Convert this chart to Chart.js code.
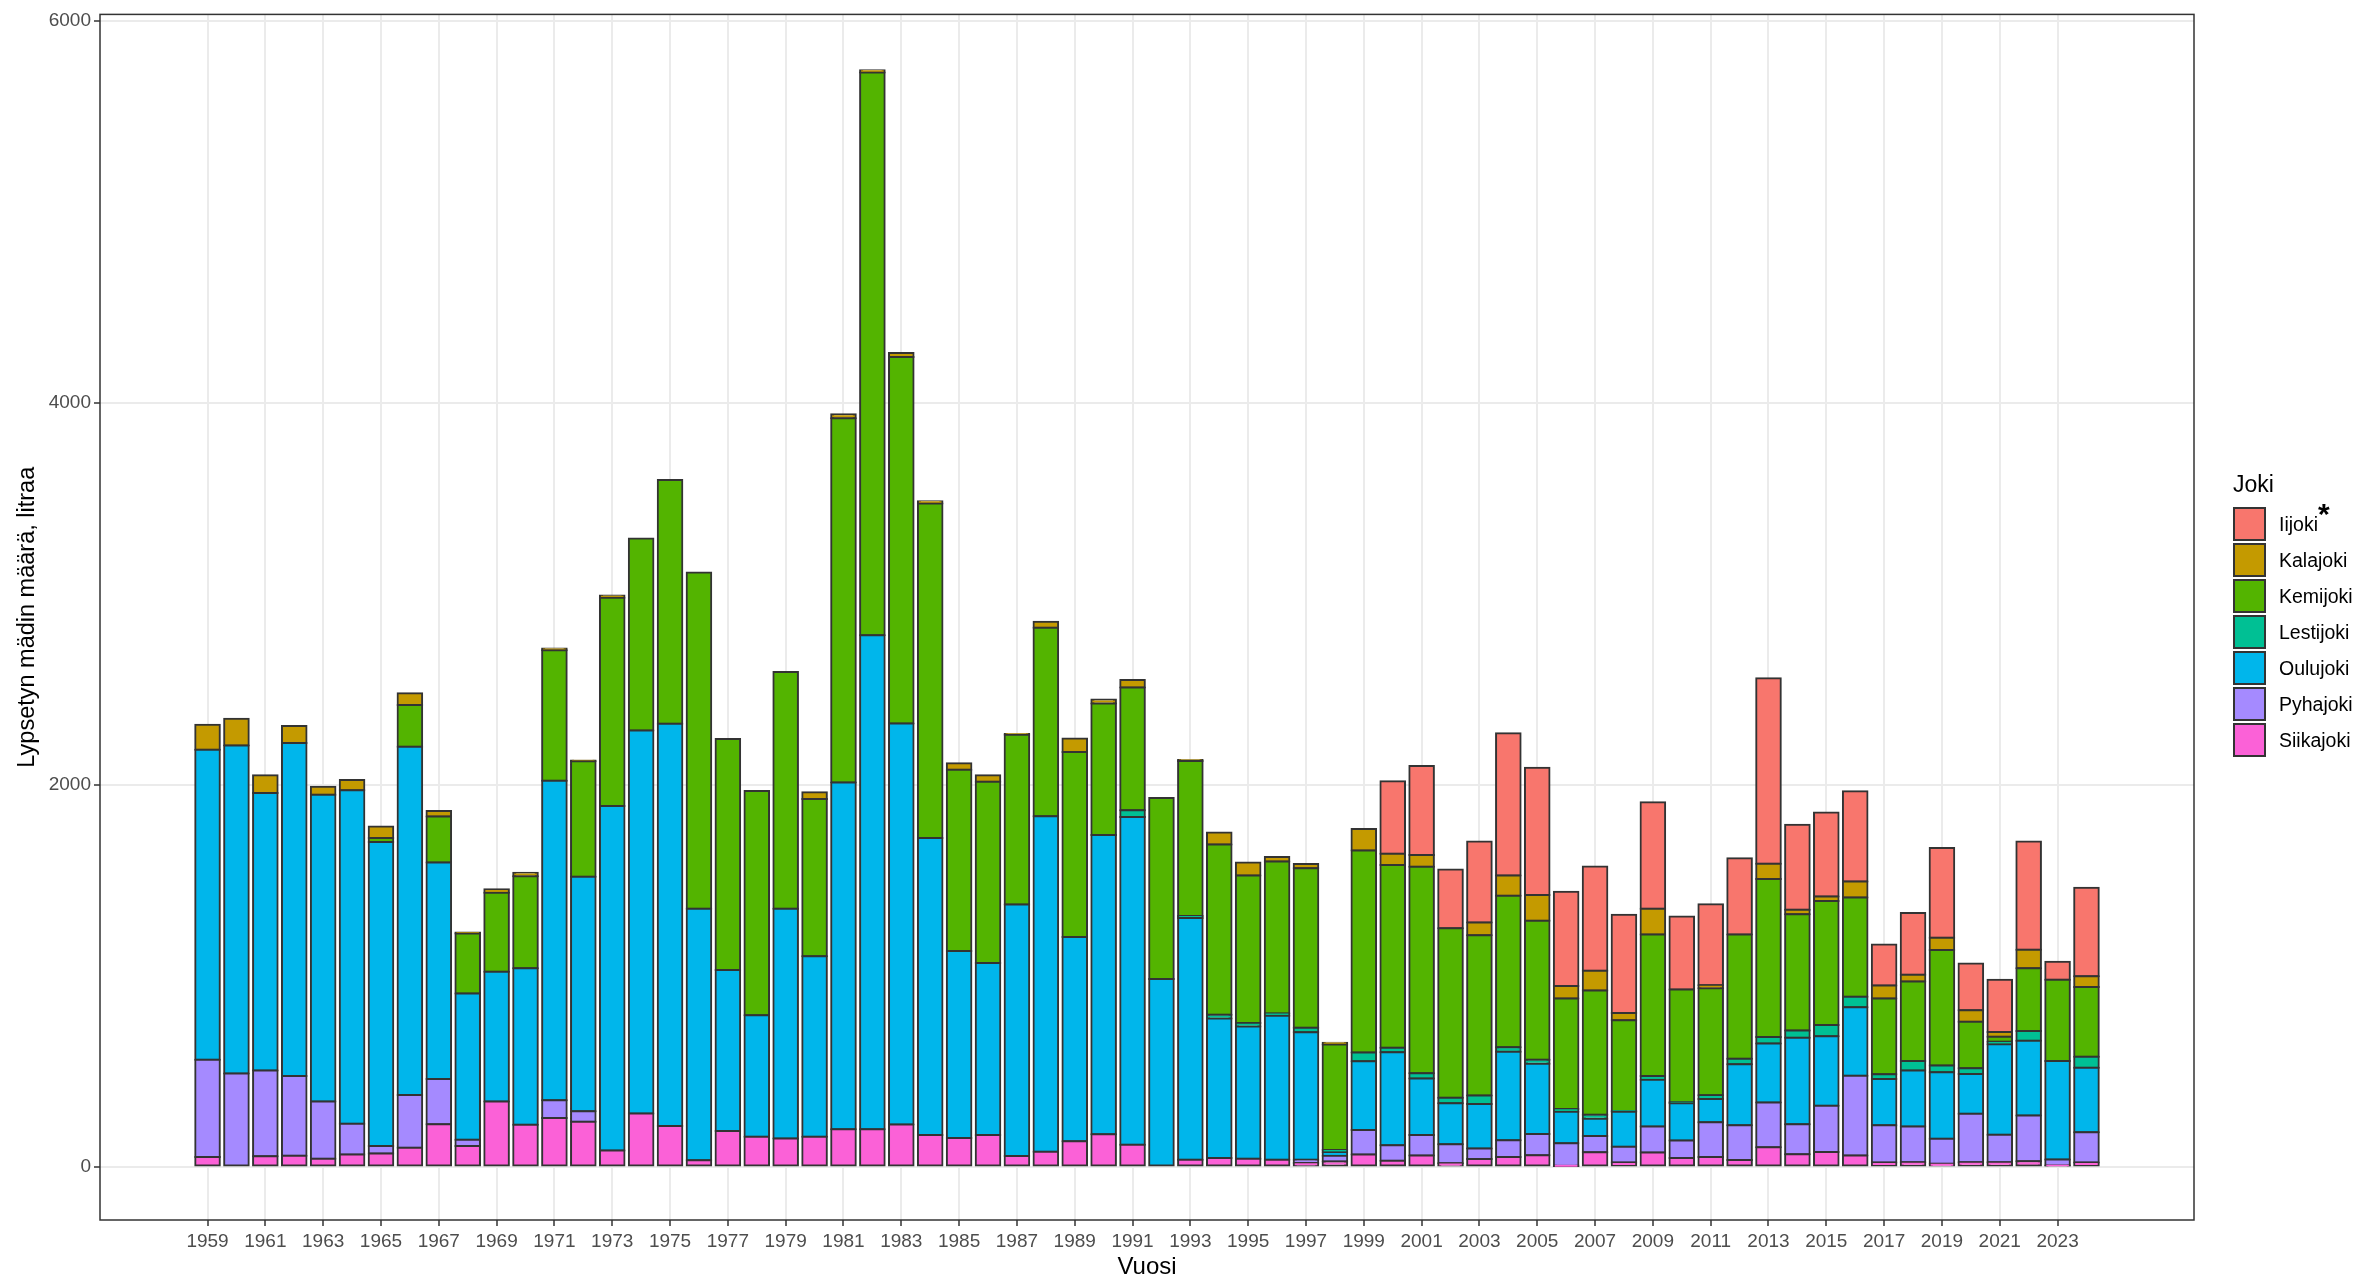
<!DOCTYPE html>
<html>
<head>
<meta charset="utf-8">
<script src="https://cdn.jsdelivr.net/npm/chart.js@4.4.1/dist/chart.umd.min.js"></script>
<style>
  html, body { margin:0; padding:0; background:#ffffff; }
  #wrap { position:relative; width:2369px; height:1282px; background:#ffffff; }
  #c { position:absolute; left:0; top:0; }
  #legend { position:absolute; left:2233px; top:466px; font-family:"Liberation Sans", Arial, sans-serif; color:#000; }
  #legend .ttl { font-size:23px; height:40px; line-height:36px; }
  #legend .row { height:36px; display:flex; align-items:center; }
  #legend .key { width:29px; height:30px; border:2px solid #333333; box-sizing:content-box; margin-left:0; }
  #legend .lab { font-size:19.5px; margin-left:13px; }
  #legend sup { font-size:30px; font-weight:bold; line-height:0; position:relative; top:1px; vertical-align:super; }
</style>
</head>
<body>
<div id="wrap">
  <canvas id="c" width="2369" height="1282"></canvas>
  <div id="legend"></div>
</div>
<script>
// ---- data (litres per river per year) ----
const years = [1959,1960,1961,1962,1963,1964,1965,1966,1967,1968,
               1969,1970,1971,1972,1973,1974,1975,1976,1977,1978,
               1979,1980,1981,1982,1983,1984,1985,1986,1987,1988,
               1989,1990,1991,1992,1993,1994,1995,1996,1997,1998,
               1999,2000,2001,2002,2003,2004,2005,2006,2007,2008,
               2009,2010,2011,2012,2013,2014,2015,2016,2017,2018,
               2019,2020,2021,2022,2023,2024];

const siikajoki = [50,0,54,56,41,63,68,99,221,108,
                   341,219,254,234,84,278,213,33,186,156,
                   147,156,196,196,220,165,149,165,55,78,
                   133,169,114,0,36,45,41,36,18,26,
                   63,30,58,17,40,50,59,3,75,21,
                   73,45,50,34,101,65,76,58,21,23,
                   14,23,23,28,5,21];

const pyhajoki = [510,487,449,418,300,161,40,276,237,32,
                  0,0,93,56,0,0,0,0,0,0,
                  0,0,0,0,0,0,0,0,0,0,
                  0,0,0,0,0,0,0,0,18,30,
                  129,82,107,100,55,88,112,119,85,83,
                  137,91,182,182,235,157,242,418,195,187,
                  132,254,144,239,32,158];

const oulujoki = [1623,1718,1454,1745,1607,1747,1592,1824,1134,766,
                  679,820,1674,1228,1805,2006,2107,1317,844,637,
                  1203,946,1815,2587,2101,1556,980,901,1317,1757,
                  1070,1568,1717,982,1266,730,693,754,668,19,
                  359,487,296,214,232,463,368,165,90,183,
                  244,196,122,320,309,452,364,359,243,293,
                  348,208,473,392,516,339];

const lestijoki = [0,0,0,0,0,0,0,0,0,0,
                   0,0,0,0,0,0,0,0,0,0,
                   0,0,0,0,0,0,0,0,0,0,
                   0,0,35,0,10,20,18,12,23,12,
                   47,23,28,29,45,24,21,15,21,4,
                   20,5,20,29,33,38,59,54,24,50,
                   35,30,14,51,0,57];

const kemijoki = [0,0,0,0,0,0,21,219,241,315,
                  414,482,683,605,1090,1006,1276,1761,1210,1174,
                  1240,823,1909,2948,1920,1752,949,949,890,987,
                  969,689,643,948,812,892,772,796,835,552,
                  1057,957,1081,888,840,793,727,578,651,475,
                  741,590,560,650,828,610,650,520,397,416,
                  605,243,26,329,425,365];

const kalajoki = [131,141,93,88,41,54,60,61,30,5,
                  18,18,9,4,12,0,0,0,0,0,
                  0,36,20,12,20,12,35,35,4,32,
                  70,20,39,0,6,63,68,23,23,10,
                  113,59,62,0,66,106,135,66,103,38,
                  135,0,15,0,80,23,23,84,68,36,
                  65,61,25,96,0,57];

const iijoki = [0,0,0,0,0,0,0,0,0,0,
                0,0,0,0,0,0,0,0,0,0,
                0,0,0,0,0,0,0,0,0,0,
                0,0,0,0,0,0,0,0,0,0,
                0,380,466,308,425,745,667,494,547,515,
                558,383,425,400,972,445,440,473,215,323,
                470,245,273,567,95,463];

const xTickLabels = [1959,1961,1963,1965,1967,1969,1971,1973,1975,1977,1979,1981,1983,1985,1987,1989,1991,
                     1993,1995,1997,1999,2001,2003,2005,2007,2009,2011,2013,2015,2017,2019,2021,2023];
const yTickLabels = [0, 2000, 4000, 6000];

// stacking order: bottom -> top
const seriesNames  = ["Siikajoki","Pyhajoki","Oulujoki","Lestijoki","Kemijoki","Kalajoki","Iijoki"];
const seriesValues = [siikajoki, pyhajoki, oulujoki, lestijoki, kemijoki, kalajoki, iijoki];
const seriesColors = ["#FB61D7","#A58AFF","#00B6EB","#00C094","#53B400","#C49A00","#F8766D"];

const FONT = '"Liberation Sans", Arial, sans-serif';

const datasets = seriesNames.map((name, k) => ({
  label: name,
  data: seriesValues[k].map((v, i) => ({x: years[i], y: v > 0 ? v : null})),
  backgroundColor: seriesColors[k],
  borderColor: '#333333',
  borderWidth: 2,
  inflateAmount: 1,
  borderSkipped: false,
  barPercentage: 0.85,
  categoryPercentage: 1.0
}));

const panelBorder = {
  id: 'panelBorder',
  afterDatasetsDraw(chart) {
    const a = chart.chartArea, ctx = chart.ctx;
    ctx.save();
    ctx.strokeStyle = '#333333';
    ctx.lineWidth = 1.5;
    ctx.strokeRect(a.left, a.top, a.right - a.left, a.bottom - a.top);
    ctx.restore();
  }
};
const whiteBg = {
  id: 'whiteBg',
  beforeDraw(chart) {
    const ctx = chart.ctx;
    ctx.save(); ctx.fillStyle = '#ffffff'; ctx.fillRect(0, 0, chart.width, chart.height); ctx.restore();
  }
};

new Chart(document.getElementById('c'), {
  type: 'bar',
  data: { datasets },
  plugins: [whiteBg, panelBorder],
  options: {
    responsive: false,
    devicePixelRatio: 1,
    animation: false,
    layout: { padding: { left: 0, right: 175, top: 9, bottom: 0 } },
    plugins: { legend: { display: false }, tooltip: { enabled: false } },
    scales: {
      x: {
        type: 'linear',
        stacked: true,
        offset: false,
        min: 1955.28,
        max: 2027.72,
        afterBuildTicks: s => { s.ticks = xTickLabels.map(v => ({ value: v })); },
        afterFit: s => { s.height = 62; },
        ticks: { autoSkip: false, maxRotation: 0, color: '#4D4D4D', padding: 4,
                 font: { family: FONT, size: 19 }, callback: v => String(v) },
        grid: { offset: false, color: '#EBEBEB', lineWidth: 2, tickColor: '#333333', tickLength: 6, tickWidth: 1.5 },
        border: { display: false },
        title: { display: true, text: 'Vuosi', color: '#000000',
                 font: { family: FONT, size: 24 }, padding: { top: 0, bottom: 0 } }
      },
      y: {
        stacked: true,
        min: -280,
        max: 6035,
        afterBuildTicks: s => { s.ticks = yTickLabels.map(v => ({ value: v })); },
        afterFit: s => { s.width = 100; },
        ticks: { color: '#4D4D4D', padding: 3, font: { family: FONT, size: 19 }, callback: v => String(v) },
        grid: { color: '#EBEBEB', lineWidth: 2, tickColor: '#333333', tickLength: 6, tickWidth: 1.5 },
        border: { display: false },
        title: { display: true, text: 'Lypsetyn mädin määrä, litraa', color: '#000000',
                 font: { family: FONT, size: 23.5 }, padding: { top: 13, bottom: 0 } }
      }
    }
  }
});

// legend (top item first, as in the reference)
const lg = document.getElementById('legend');
let html = '<div class="ttl">Joki</div>';
for (let k = seriesNames.length - 1; k >= 0; k--) {
  const label = seriesNames[k] === 'Iijoki' ? 'Iijoki<sup>*</sup>' : seriesNames[k];
  html += '<div class="row"><div class="key" style="background:' + seriesColors[k] + '"></div><div class="lab">' + label + '</div></div>';
}
lg.innerHTML = html;
</script>
</body>
</html>
